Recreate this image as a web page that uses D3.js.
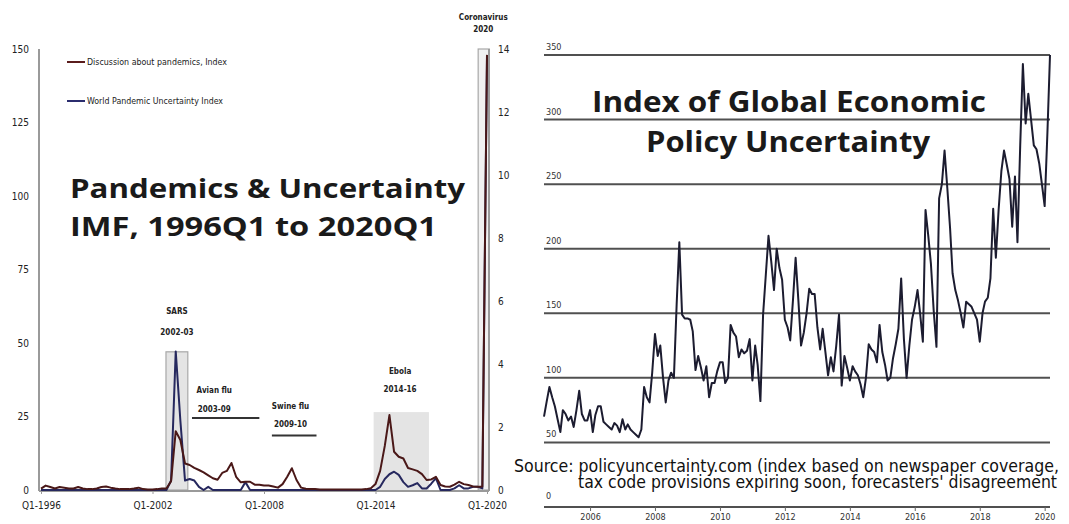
<!DOCTYPE html>
<html>
<head>
<meta charset="utf-8">
<script src="https://cdn.jsdelivr.net/npm/d3@7"></script>
<style>
  html, body { margin: 0; padding: 0; background: #fff; }
  svg { display: block; }
</style>
</head>
<body>
<svg id="chart" width="1069" height="524"></svg>
<script>
// ---------------- DATA ----------------
// Left chart: quarterly, 1996Q1 .. 2020Q1
const firstYear = 1996;
const quarterLabels = d3.range(97).map(i => "Q" + (i % 4 + 1) + "-" + (firstYear + Math.floor(i / 4)));
const xTickLabels = ["Q1-1996", "Q1-2002", "Q1-2008", "Q1-2014", "Q1-2020"];

// Discussion about pandemics, Index (left axis, 0-150)
const pandemicDiscussion = [
  0.5,1.5,1,0.5,1,0.8,0.5,0.5,1,0.5,0.3,0.3,0.5,1,1.2,0.8,0.5,0.3,0.3,0.3,0.5,0.8,0.3,0.2,0.2,0.3,0.5,
  0.5,3,20,17,9,8.5,7.5,6.8,6,5,4,3.5,5.8,6.5,9.2,4.5,2.6,2.8,2.8,1.8,1.8,1.5,1.5,1.2,0.8,2,4.5,7.4,3.4,0.8,
  0.4,0.3,0.3,0.2,0.2,0.2,0.2,0.2,0.2,0.2,0.2,0.2,0.2,0.3,0.6,
  2,6.5,15,25.5,13,11.3,10.7,7.5,7,6.5,5.4,3.4,3.6,4.5,1.7,1.2,1.1,1.8,2.8,2,1.7,1.2,1.1,1.2,148
];
// World Pandemic Uncertainty Index (right axis, 0-14)
const wpui = [
  0,0,0,0,0,0,0,0,0,0,0,0,0,0,0,0,0,0,0,0,0,0,0,0,0,0,0,0,
  0.3,4.4,2.2,0.3,0.35,0.3,0.1,0,0.1,0,0,0,0,0,0,0,0.25,0,
  0,0,0,0,0,0,0,0,0,0,0,0,0,0,0,0,0,0,0,0,0,0,0,0,0,0,0,
  0.1,0.35,0.5,0.58,0.48,0.25,0.1,0.15,0.22,0.05,0.05,0.2,0.38,0,0,0,0.05,0.15,0.05,0.05,0.1,0.1,0.05,13.8
];
const leftTicks = [0, 25, 50, 75, 100, 125, 150];
const rightTicks = [0, 2, 4, 6, 8, 10, 12, 14];

// Episodes (quarter indices, top in left-axis units)
const shadedEpisodes = [
  { name: "SARS", period: "2002-03", from: 26.9, to: 31.6, top: 47 },
  { name: "Ebola", period: "2014-16", from: 71.6, to: 83.5, top: 26.5 },
  { name: "Coronavirus", period: "2020", from: 94.1, to: 96.5, top: 150 }
];
const lineEpisodes = [
  { name: "Avian flu", period: "2003-09", from: 32.5, to: 47, level: 24.5 },
  { name: "Swine flu", period: "2009-10", from: 49.7, to: 59.3, level: 18.5 }
];

// Right chart: Global EPU, monthly from Aug 2004 to Mar 2020
const epuStart = new Date(2004, 7, 1);
const epu = [
  70,82,93,85,78,68,58,75,72,67,70,62,75,90,72,67,67,75,58,71,78,78,66,64,62,60,65,63,58,68,60,64,60,58,56,54,
  60,93,85,81,104,134,117,125,100,81,98,104,
  100,157,205,149,146,146,145,136,106,117,108,98,
  109,85,96,96,105,112,112,96,100,141,135,132,
  116,122,119,121,130,98,125,110,82,149,180,210,
  190,168,200,185,176,145,139,129,160,193,160,125,
  135,150,169,165,165,139,122,138,120,102,116,105,
  125,149,94,117,108,98,109,105,102,95,85,100,
  126,122,120,112,141,120,110,98,100,115,126,138,
  177,130,100,125,145,155,168,150,128,230,210,188,
  152,124,239,250,276,247,216,181,168,160,150,139,
  159,157,155,150,145,128,150,159,162,177,231,193,
  230,260,276,265,254,217,256,205,280,343,297,320,
  300,280,277,266,250,233,290,350
];
const epuTicks = [0, 50, 100, 150, 200, 250, 300, 350];
const epuYears = [2006, 2008, 2010, 2012, 2014, 2016, 2018, 2020];

// ---------------- DRAW ----------------
const svg = d3.select("#chart");
const narrow = '"Liberation Sans Narrow", "DejaVu Sans Condensed", Roboto, sans-serif';
const bold = '"Open Sans", "DejaVu Sans", sans-serif';

// ===== Left chart =====
const L = { x0: 41, x1: 487, y0: 490, y1: 49, axL: 39, axR: 489 };
const xq = d3.scaleLinear().domain([0, 96]).range([L.x0, L.x1]);
const yL = d3.scaleLinear().domain([0, 150]).range([L.y0, L.y1]);
const yR = d3.scaleLinear().domain([0, 14]).range([L.y0, L.y1]);

const left = svg.append("g");

left.selectAll("rect.ep").data(shadedEpisodes).join("rect")
  .attr("class", "ep")
  .attr("x", d => xq(d.from)).attr("width", d => xq(d.to) - xq(d.from))
  .attr("y", d => yL(d.top)).attr("height", d => yL(0) - yL(d.top))
  .attr("fill", (d, i) => i === 2 ? "#f1f1f1" : "#e4e4e4")
  .attr("stroke", (d, i) => i === 1 ? "none" : "#a8a8a8")
  .attr("stroke-width", 1.2);

left.selectAll("line.per").data(lineEpisodes).join("line")
  .attr("class", "per")
  .attr("x1", d => xq(d.from)).attr("x2", d => xq(d.to))
  .attr("y1", d => yL(d.level)).attr("y2", d => yL(d.level))
  .attr("stroke", "#333").attr("stroke-width", 2);

const epLabels = [
  { t: shadedEpisodes[0], cx: (shadedEpisodes[0].from + shadedEpisodes[0].to) / 2, y1: 311, y2: 332 },
  { t: lineEpisodes[0], cx: 37.3, y1: 390, y2: 409 },
  { t: lineEpisodes[1], cx: 53.7, y1: 406, y2: 424 },
  { t: shadedEpisodes[1], cx: 77.3, y1: 371, y2: 389 },
  { t: shadedEpisodes[2], cx: 95.2, y1: 17, y2: 29 }
];
epLabels.forEach(e => {
  left.append("text").attr("x", xq(e.cx)).attr("y", e.y1).attr("dy", "0.35em")
    .attr("text-anchor", "middle").attr("font-family", narrow).attr("font-weight", "bold")
    .attr("font-size", 8).attr("fill", "#222").text(e.t.name);
  left.append("text").attr("x", xq(e.cx)).attr("y", e.y2).attr("dy", "0.35em")
    .attr("text-anchor", "middle").attr("font-family", narrow).attr("font-weight", "bold")
    .attr("font-size", 8).attr("fill", "#222").text(e.t.period);
});

left.append("line").attr("x1", L.axL).attr("x2", L.axL).attr("y1", L.y1).attr("y2", L.y0 + 1)
  .attr("stroke", "#9a9a9a").attr("stroke-width", 2);
left.append("line").attr("x1", L.axR).attr("x2", L.axR).attr("y1", L.y1).attr("y2", L.y0 + 1)
  .attr("stroke", "#9a9a9a").attr("stroke-width", 2);
left.append("line").attr("x1", L.axL).attr("x2", L.axR).attr("y1", L.y0 + 1).attr("y2", L.y0 + 1)
  .attr("stroke", "#9a9a9a").attr("stroke-width", 2);

const gyl = left.append("g").attr("transform", `translate(${L.axL},0)`)
  .call(d3.axisLeft(yL).tickValues(leftTicks).tickSize(0).tickPadding(10));
gyl.select(".domain").remove();
gyl.selectAll("text").attr("font-family", narrow).attr("font-size", 10).attr("fill", "#222");

const gyr = left.append("g").attr("transform", `translate(${L.axR},0)`)
  .call(d3.axisRight(yR).tickValues(rightTicks).tickSize(0).tickPadding(9));
gyr.select(".domain").remove();
gyr.selectAll("text").attr("font-family", narrow).attr("font-size", 10).attr("fill", "#222");

const gx = left.append("g").attr("transform", `translate(0,${L.y0 + 1})`)
  .call(d3.axisBottom(xq).tickValues(xTickLabels.map(s => quarterLabels.indexOf(s)))
    .tickFormat(i => quarterLabels[i]).tickSize(3).tickPadding(8));
gx.select(".domain").remove();
gx.selectAll("line").attr("stroke", "#9a9a9a");
gx.selectAll("text").attr("font-family", narrow).attr("font-size", 10).attr("fill", "#222");

const lineL = d3.line().x((d, i) => xq(i)).y(d => yL(d));
const lineR = d3.line().x((d, i) => xq(i)).y(d => yR(d));
left.append("path").datum(wpui).attr("d", lineR)
  .attr("fill", "none").attr("stroke", "#26285e").attr("stroke-width", 2).attr("stroke-linejoin", "round");
left.append("path").datum(pandemicDiscussion).attr("d", lineL)
  .attr("fill", "none").attr("stroke", "#4a1818").attr("stroke-width", 2).attr("stroke-linejoin", "round");

const legend = [
  { label: "Discussion about pandemics, Index", color: "#5a1c1c", y: 62, w: 140 },
  { label: "World Pandemic Uncertainty Index", color: "#2b2d6e", y: 101, w: 136 }
];
legend.forEach(l => {
  left.append("line").attr("x1", 67).attr("x2", 85).attr("y1", l.y).attr("y2", l.y)
    .attr("stroke", l.color).attr("stroke-width", 2);
  left.append("text").attr("x", 87).attr("y", l.y).attr("dy", "0.35em")
    .attr("font-family", narrow).attr("font-size", 9).attr("fill", "#222")
    .attr("textLength", l.w).attr("lengthAdjust", "spacingAndGlyphs")
    .text(l.label);
});

left.append("text").attr("x", 70).attr("y", 198)
  .attr("font-family", bold).attr("font-weight", "bold").attr("font-size", 27).attr("fill", "#1a1a1a")
  .attr("textLength", 395).attr("lengthAdjust", "spacingAndGlyphs")
  .text("Pandemics & Uncertainty");
left.append("text").attr("x", 70).attr("y", 236)
  .attr("font-family", bold).attr("font-weight", "bold").attr("font-size", 27).attr("fill", "#1a1a1a")
  .attr("textLength", 367).attr("lengthAdjust", "spacingAndGlyphs")
  .text("IMF, 1996Q1 to 2020Q1");

// ===== Right chart =====
const R = { x0: 544, x1: 1050, y0: 507, y1: 55 };
const xt = d3.scaleTime().domain([epuStart, d3.timeMonth.offset(epuStart, epu.length - 1)]).range([R.x0, R.x1]);
const ye = d3.scaleLinear().domain([0, 350]).range([R.y0, R.y1]);
const right = svg.append("g");

right.selectAll("line.grid").data(epuTicks).join("line")
  .attr("class", "grid")
  .attr("x1", R.x0).attr("x2", R.x1).attr("y1", d => ye(d)).attr("y2", d => ye(d))
  .attr("stroke", "#505050").attr("stroke-width", 2);

right.selectAll("text.yl").data(epuTicks).join("text")
  .attr("class", "yl")
  .attr("x", R.x0 + 2).attr("y", d => ye(d) - (d === 0 ? 8 : 5))
  .attr("font-family", narrow).attr("font-size", 9).attr("fill", "#333")
  .text(d => d);

const gxe = right.append("g").attr("transform", `translate(0,${R.y0})`)
  .call(d3.axisBottom(xt).tickValues(epuYears.map(y => new Date(y, 0, 1)))
    .tickFormat(d3.timeFormat("%Y")).tickSize(4).tickPadding(3));
gxe.select(".domain").remove();
gxe.selectAll("line").attr("stroke", "#666");
gxe.selectAll("text").attr("font-family", narrow).attr("font-size", 9).attr("fill", "#333");

svg.append("clipPath").attr("id", "epuclip").append("rect")
  .attr("x", R.x0 - 2).attr("y", R.y1).attr("width", R.x1 - R.x0 + 4).attr("height", R.y0 - R.y1);
right.append("path").datum(epu)
  .attr("clip-path", "url(#epuclip)")
  .attr("d", d3.line().x((d, i) => xt(d3.timeMonth.offset(epuStart, i))).y(d => ye(d)))
  .attr("fill", "none").attr("stroke", "#1c1c30").attr("stroke-width", 2).attr("stroke-linejoin", "round");

right.append("text").attr("x", 592).attr("y", 112)
  .attr("font-family", bold).attr("font-weight", "bold").attr("font-size", 29).attr("fill", "#1a1a1a")
  .attr("textLength", 394).attr("lengthAdjust", "spacingAndGlyphs")
  .text("Index of Global Economic");
right.append("text").attr("x", 646).attr("y", 152)
  .attr("font-family", bold).attr("font-weight", "bold").attr("font-size", 29).attr("fill", "#1a1a1a")
  .attr("textLength", 284).attr("lengthAdjust", "spacingAndGlyphs")
  .text("Policy Uncertainty");

right.append("text").attr("x", 514).attr("y", 472)
  .attr("font-family", '"DejaVu Sans Condensed", "DejaVu Sans", sans-serif').attr("font-size", 17).attr("fill", "#111")
  .attr("textLength", 545).attr("lengthAdjust", "spacingAndGlyphs")
  .text("Source: policyuncertainty.com (index based on newspaper coverage,");
right.append("text").attr("x", 578).attr("y", 488)
  .attr("font-family", '"DejaVu Sans Condensed", "DejaVu Sans", sans-serif').attr("font-size", 17).attr("fill", "#111")
  .attr("textLength", 479).attr("lengthAdjust", "spacingAndGlyphs")
  .text("tax code provisions expiring soon, forecasters' disagreement");
</script>
</body>
</html>
